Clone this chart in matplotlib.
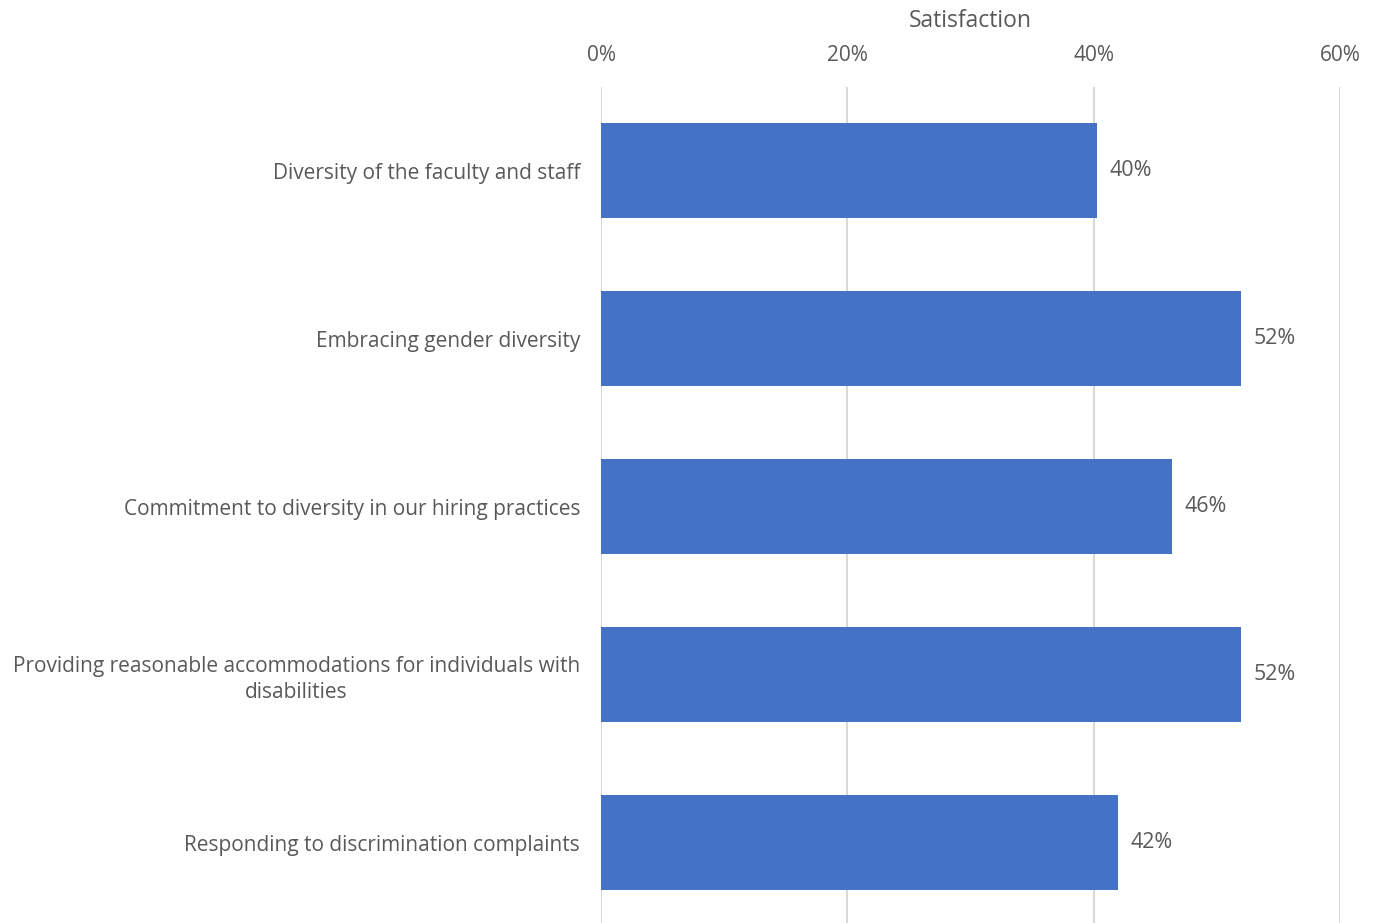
import matplotlib
matplotlib.use("Agg")
import matplotlib.pyplot as plt
from matplotlib.ticker import FuncFormatter

categories = [
    "Diversity of the faculty and staff",
    "Embracing gender diversity",
    "Commitment to diversity in our hiring practices",
    "Providing reasonable accommodations for individuals with\ndisabilities",
    "Responding to discrimination complaints",
]
values = [40.3, 52.0, 46.4, 52.0, 42.0]
xticks = [0, 20, 40, 60]

plt.rcParams['font.family'] = ['Open Sans', 'DejaVu Sans']
text_color = "#595959"

W, H = 1375, 923
fig = plt.figure(figsize=(W / 100, H / 100), dpi=100)
top_px, band_px = 86.5, 168.0
ax_h = band_px * len(categories)
ax = fig.add_axes([601 / W, (H - top_px - ax_h) / H, 739 / W, ax_h / H])

y = list(range(len(categories)))
ax.barh(y, values, height=0.565, color="#4472C4", zorder=3)
for yi, v in zip(y, values):
    ax.text(v + 1.0, yi, f"{round(v):d}%", va="center", ha="left",
            fontsize=15.5, color=text_color)

ax.set_xlim(0, 60)
ax.set_ylim(len(categories) - 0.5, -0.5)
ax.set_xticks(xticks)
ax.xaxis.set_major_formatter(FuncFormatter(lambda v, p: f"{v:.0f}%"))
ax.xaxis.tick_top()
ax.xaxis.set_label_position("top")
ax.set_xlabel("Satisfaction", fontsize=16.5, color=text_color, labelpad=13)
ax.tick_params(axis="x", length=0, labelsize=15, labelcolor=text_color, pad=15)
ax.set_yticks(y)
ax.set_yticklabels(categories, fontsize=15, color=text_color)
for lbl in ax.get_yticklabels():
    lbl.set_horizontalalignment("right")
    lbl.set_multialignment("center")
    lbl.set_linespacing(1.3)
ax.tick_params(axis="y", length=0, pad=15)
ax.grid(axis="x", color="#d9d9d9", linewidth=1.5, zorder=0)
for s in ax.spines.values():
    s.set_visible(False)

fig.savefig("out.png", dpi=100)
